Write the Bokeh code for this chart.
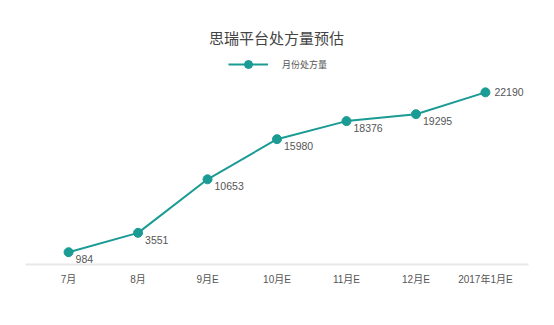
from bokeh.plotting import figure
from bokeh.models import Range1d, FactorRange, ColumnDataSource, Label, Legend, LegendItem
from bokeh.core.properties import value
from bokeh.embed import file_html
from bokeh.resources import INLINE

# ---- data ----
months = ["7月", "8月", "9月E", "10月E", "11月E", "12月E", "2017年1月E"]
volumes = [984, 3551, 10653, 15980, 18376, 19295, 22190]
title_text = "思瑞平台处方量预估"
series_name = "月份处方量"

TEAL = "#1a9b94"
TEXT = "#555555"
FONT = "'Liberation Sans', 'Noto Sans CJK SC', sans-serif"

p = figure(
    width=554, height=325,
    x_range=FactorRange(*months, range_padding=0.12, range_padding_units="absolute"),
    y_range=Range1d(-650, 34380),
    output_backend="svg", toolbar_location=None,
    min_border_left=25, min_border_right=26, min_border_top=0, min_border_bottom=61,
)
p.outline_line_color = None
p.grid.visible = False
p.yaxis.visible = False
p.background_fill_color = "white"

ax = p.xaxis[0]
ax.axis_line_color = "#e8e8e8"
ax.axis_line_width = 2
ax.major_tick_line_color = None
ax.minor_tick_line_color = None
ax.major_label_text_font_size = "10px"
ax.major_label_text_color = TEXT
ax.major_label_text_font = FONT
ax.major_label_standoff = 3

src = ColumnDataSource(dict(month=months, vol=volumes, lab=[str(v) for v in volumes]))
src_a = ColumnDataSource(dict(month=months[:-1], vol=volumes[:-1], lab=[str(v) for v in volumes[:-1]]))
src_b = ColumnDataSource(dict(month=months[-1:], vol=volumes[-1:], lab=[str(v) for v in volumes[-1:]]))

ln = p.line(x="month", y="vol", source=src, line_color=TEAL, line_width=2)
dots = p.scatter(x="month", y="vol", source=src, size=9, fill_color=TEAL, line_color=TEAL)

p.text(x="month", y="vol", text="lab", source=src_a, x_offset=7, y_offset=7,
       text_baseline="middle", text_align="left", text_font_size="10.5px",
       text_color=TEXT, text_font=value(FONT))
p.text(x="month", y="vol", text="lab", source=src_b, x_offset=9, y_offset=0,
       text_baseline="middle", text_align="left", text_font_size="10.5px",
       text_color=TEXT, text_font=value(FONT))

# screen units here are measured from the frame's bottom-left corner
title = Label(x=251, y=226, x_units="screen", y_units="screen", text=title_text,
              text_align="center", text_baseline="middle", text_font_size="15px",
              text_color="#444444", text_font=FONT)
p.add_layout(title)

legend = Legend(items=[LegendItem(label=series_name, renderers=[ln, dots])],
                location=(203, 190), padding=0, margin=0, glyph_width=40, glyph_height=20,
                label_standoff=14, label_text_font_size="9px", label_text_color=TEXT,
                label_text_font=FONT, border_line_color=None, background_fill_alpha=0)
p.add_layout(legend)

open("out.html", "w").write(file_html(p, INLINE))
